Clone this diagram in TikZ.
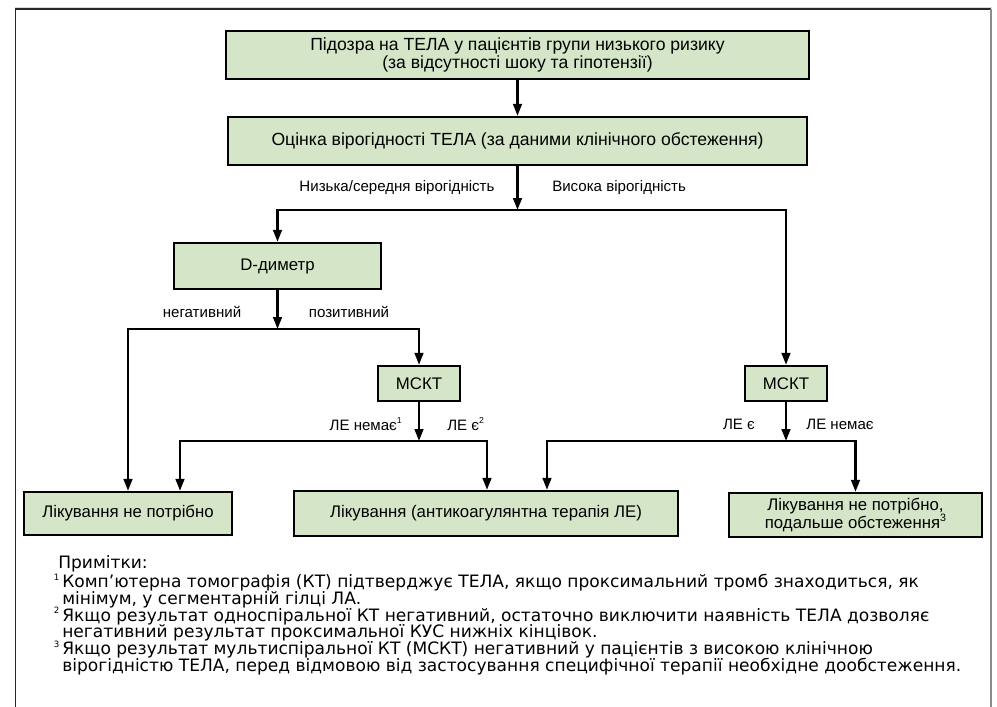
\documentclass[tikz,border=0pt]{standalone}
\usepackage{fontspec}
\setmainfont{Liberation Sans}
\newfontfamily\notefont{DejaVu Sans}
\usetikzlibrary{arrows.meta}
\definecolor{boxgreen}{RGB}{212,230,199}
\definecolor{framedark}{RGB}{40,40,40}
\definecolor{framegray}{RGB}{140,140,140}
\newcommand\mysup[2][6.5]{\raisebox{0.42em}{\fontsize{#1}{#1}\selectfont #2}}
\begin{document}
\begin{tikzpicture}[x=0.75pt,y=-0.75pt,
  box/.style={draw=black, line width=1.7pt, fill=boxgreen, inner sep=0pt,
    font=\fontsize{12.6}{13.5}\selectfont, align=center},
  bigbox/.style={box, font=\fontsize{13.2}{14}\selectfont},
  conn/.style={line width=1.8pt, draw=black},
  arr/.style={conn, -{Triangle[length=9pt,width=6.5pt]}},
  lbl/.style={font=\fontsize{11.3}{13}\selectfont, inner sep=0pt},
  note/.style={font=\notefont\fontsize{12.8}{14}\selectfont, inner sep=0pt, anchor=base west}]
\useasboundingbox (0,0) rectangle (997,707);
% frame
\draw[gray!30, line width=0.75pt] (15,7.5) -- (992,7.5);
\draw[framedark, line width=1.2pt] (15.5,707) -- (15.5,9) -- (991,9);
\draw[framegray, line width=2pt] (991,8.5) -- (991,707);
% boxes
\node[bigbox, minimum width=437.25pt, minimum height=36pt] (b1) at (517.5,55)
  {Підозра на ТЕЛА у пацієнтів групи низького ризику\\(за відсутності шоку та гіпотензії)};
\node[bigbox, minimum width=434.25pt, minimum height=36pt] (b2) at (517.5,141)
  {Оцінка вірогідності ТЕЛА (за даними клінічного обстеження)};
\node[box, minimum width=155.25pt, minimum height=34.5pt] (dd) at (277.5,266) {D-диметр};
\node[box, minimum width=61.5pt, minimum height=26.25pt] (msL) at (419,383.5) {МСКТ};
\node[box, minimum width=61.5pt, minimum height=26.25pt] (msR) at (786,383.5) {МСКТ};
\node[box, minimum width=156pt, minimum height=32.25pt] (ntx) at (128,513.5) {Лікування не потрібно};
\node[box, minimum width=288pt, minimum height=33.75pt] (tx) at (486,513.5) {Лікування (антикоагулянтна терапія ЛЕ)};
\node[box, minimum width=189.75pt, minimum height=33pt] (b3) at (855.5,515)
  {Лікування не потрібно,\\подальше обстеження\mysup[8]{3}};
% junctions
\coordinate (j1) at (517.5,210);
\coordinate (j2) at (277.5,329);
\coordinate (j3) at (419,441);
\coordinate (j4) at (786,441);
% connectors
\draw[arr] (b1.south) -- (b2.north);
\draw[arr] (b2.south) -- (j1);
\draw[arr] (j1) -| (dd.north);
\draw[arr] (j1) -| (msR.north);
\draw[arr] (dd.south) -- (j2);
\draw[arr] (j2) -| (ntx.north);
\draw[arr] (j2) -| (msL.north);
\draw[arr] (msL.south) -- (j3);
\draw[arr] (j3) -| ([xshift=39pt]ntx.north);
\draw[arr] (j3) -| ([xshift=0.75pt]tx.north);
\draw[arr] (msR.south) -- (j4);
\draw[arr] (j4) -| ([xshift=45.75pt]tx.north);
\draw[arr] (j4) -| (b3.north);
% labels
\node[lbl] (l1) at (397,188) {Низька/середня вірогідність};
\node[lbl, anchor=west] (l2) at (552,188) {Висока вірогідність};
\node[lbl] (l3) at (202,312) {негативний};
\node[lbl] (l4) at (349,312) {позитивний};
\node[lbl, anchor=east] (l5) at (402,424) {ЛЕ немає\mysup{1}};
\node[lbl, anchor=west] (l6) at (447,424) {ЛЕ є\mysup{2}};
\node[lbl] (l7) at (739,424) {ЛЕ є};
\node[lbl] (l8) at (840,424) {ЛЕ немає};
% notes
\node[note] (n0) at (58,568) {Примітки:};
\node[note] (n1) at (62,587.4) {\llap{\mysup{1}\,}Комп’ютерна томографія (КТ) підтверджує ТЕЛА, якщо проксимальний тромб знаходиться, як};
\node[note] (n2) at (62,604.2) {мінімум, у сегментарній гілці ЛА.};
\node[note] (n3) at (62,621) {\llap{\mysup{2}\,}Якщо результат односпіральної КТ негативний, остаточно виключити наявність ТЕЛА дозволяє};
\node[note] (n4) at (62,637.8) {негативний результат проксимальної КУС нижніх кінцівок.};
\node[note] (n5) at (62,654.6) {\llap{\mysup{3}\,}Якщо результат мультиспіральної КТ (МСКТ) негативний у пацієнтів з високою клінічною};
\node[note] (n6) at (62,671.4) {вірогідністю ТЕЛА, перед відмовою від застосування специфічної терапії необхідне дообстеження.};
\end{tikzpicture}
\end{document}
